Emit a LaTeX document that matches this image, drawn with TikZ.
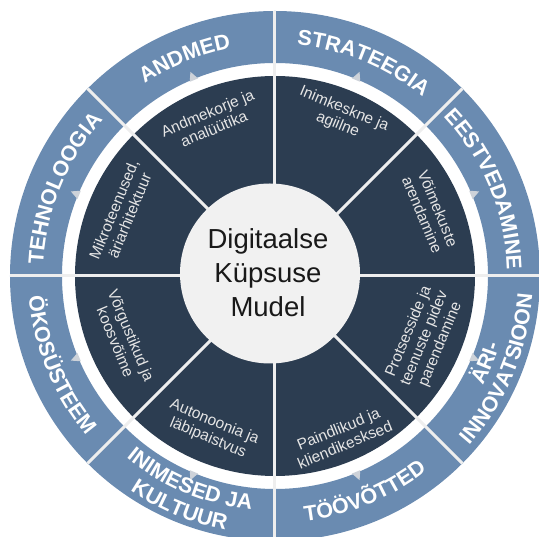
\documentclass[tikz,border=0pt]{standalone}
\usepackage{fontspec}
\setmainfont{Liberation Sans}
\usetikzlibrary{decorations.text}
\definecolor{ringblue}{HTML}{6A8BB1}
\definecolor{navy}{HTML}{2C3D51}
\definecolor{hubgray}{HTML}{F1F1F1}
\definecolor{trigray}{HTML}{CDD2D9}
\definecolor{divgray}{HTML}{EEEEEE}
\newcommand\ofont{\bfseries\fontsize{21.5}{25}\selectfont}
\begin{document}
\begin{tikzpicture}[x=1pt,y=1pt,
  outerlbl/.style={decorate, decoration={text along path, text align=center, text color=white}},
  innerlbl/.style={text=white!90!black, align=center, font=\fontsize{15.5}{17}\selectfont, inner sep=0pt},
  divline/.style={divgray, line width=3pt},
  marker/.style={fill=trigray}
  ]
\useasboundingbox (-275,-261) rectangle (264,276);
\coordinate (c) at (0,0);
% rings
\fill[ringblue, even odd rule] (c) circle[radius=265] (c) circle[radius=213];
\fill[navy] (c) circle[radius=200];
% dividers
\foreach \a in {0,45,...,315} \draw[divline] (\a:80) -- (\a:265);
\node[circle, fill=hubgray, minimum size=180pt, inner sep=0pt] (hub) at (-5,2.5) {};
% markers
\foreach \a in {22.5,67.5,...,337.5} \fill[marker, rotate=\a] (221,0) -- (212,4.5) -- (212,-4.5) -- cycle;
% hub text
\node[align=center, font=\fontsize{27.5}{34}\selectfont, text=black!90] (title) at (-7,3) {Digitaalse\\Küpsuse\\Mudel};
% outer labels, upper half (clockwise)
\path[outerlbl, decoration={text={|\ofont|ANDMED}}] (142.5:232) arc[start angle=142.5, end angle=82.5, radius=232];
\path[outerlbl, decoration={text={|\ofont|STRATEEGIA}}] (97.5:232) arc[start angle=97.5, end angle=37.5, radius=232];
\path[outerlbl, decoration={text={|\ofont|EESTVEDAMINE}}] (52.5:232) arc[start angle=52.5, end angle=-7.5, radius=232];
\path[outerlbl, decoration={text={|\ofont|TEHNOLOOGIA}}] (187.5:232) arc[start angle=187.5, end angle=127.5, radius=232];
% outer labels, lower half (counter-clockwise)
\path[outerlbl, decoration={text={|\ofont|ÄRI-}}] (-52.5:235) arc[start angle=-52.5, end angle=7.5, radius=235];
\path[outerlbl, decoration={text={|\ofont|INNOVATSIOON}}] (-52.5:258) arc[start angle=-52.5, end angle=7.5, radius=258];
\path[outerlbl, decoration={text={|\ofont|TÖÖVÕTTED}}] (-97.5:247) arc[start angle=-97.5, end angle=-37.5, radius=247];
\path[outerlbl, decoration={text={|\ofont|INIMESED JA}}] (-142.5:235) arc[start angle=-142.5, end angle=-82.5, radius=235];
\path[outerlbl, decoration={text={|\ofont|KULTUUR}}] (-142.5:259) arc[start angle=-142.5, end angle=-82.5, radius=259];
\path[outerlbl, decoration={text={|\ofont|ÖKOSÜSTEEM}}] (-187.5:247) arc[start angle=-187.5, end angle=-127.5, radius=247];
% inner labels
\node[innerlbl, rotate=22.5] (l1) at (112.5:168) {Andmekorje ja\\analüütika};
\node[innerlbl, rotate=-22.5] (l2) at (67.5:172) {Inimkeskne ja\\agiilne};
\node[innerlbl, rotate=-67.5] (l3) at (22.5:168) {Võimekuste\\arendamine};
\node[innerlbl, rotate=67.5] (l4) at (-22.5:162) {Protsesside ja\\teenuste pidev\\parendamine};
\node[innerlbl, rotate=22.5] (l5) at (-67.5:174) {Paindlikud ja\\kliendikesksed};
\node[innerlbl, rotate=-22.5] (l6) at (-112.5:167) {Autonoonia ja\\läbipaistvus};
\node[innerlbl, rotate=-67.5] (l7) at (-157.5:164) {Võrgustikud ja\\koosvõime};
\node[innerlbl, rotate=67.5] (l8) at (157.5:166) {Mikroteenused,\\äriarhitektuur};
\end{tikzpicture}
\end{document}
